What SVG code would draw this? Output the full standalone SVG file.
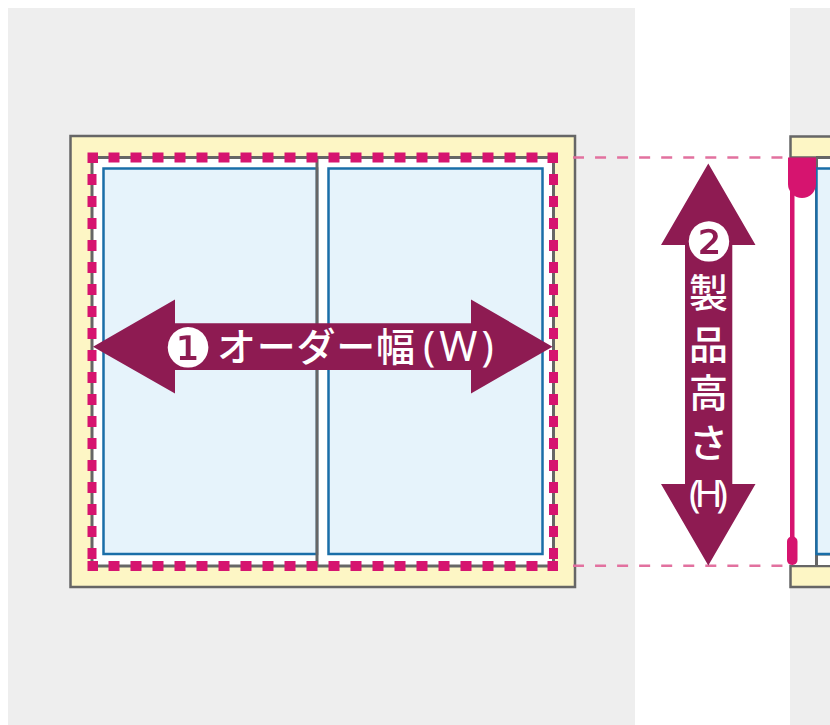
<svg xmlns="http://www.w3.org/2000/svg" width="830" height="725" viewBox="0 0 830 725">
<style>
.bg{fill:#eeeeee}
.frame{fill:#fdf6c5;stroke:#666666;stroke-width:2.500}
.opening{fill:#ffffff;stroke:#666666;stroke-width:3}
.pane{fill:#e6f3fb;stroke:#1a6ea8;stroke-width:2.500}
.post{stroke:#666666;stroke-width:3;fill:none}
.mark{fill:none;stroke:#d6146f}
.markfill{fill:#d6146f}
.guide{fill:none;stroke:#e2719f;stroke-width:2.500;stroke-dasharray:11 11.050}
.arrow{fill:#8e1b52}
.t{fill:#ffffff;font-family:"Noto Sans CJK JP","Noto Sans",sans-serif;font-size:39px;font-weight:500}
.latin{fill:#ffffff;font-family:"Noto Sans",sans-serif}
.num{fill:#ffffff;font-family:"DejaVu Sans",sans-serif;font-size:54px;text-anchor:middle}
.v{text-anchor:middle;font-size:39px}
</style>
<rect class="bg" x="8" y="8" width="627" height="717"/>
<rect class="bg" x="790" y="8" width="40" height="717"/>
<g id="window-front">
<rect class="frame" x="70.500" y="136" width="504.500" height="451"/>
<rect class="opening" x="92" y="157.500" width="461.500" height="408.500"/>
<rect class="pane" x="103.500" y="168.500" width="213.500" height="385.500"/>
<rect class="pane" x="328.500" y="168.500" width="214" height="385.500"/>
<path class="post" d="M317 157.500V566"/>
</g>
<g id="measure-outline">
<path class="mark" stroke-width="10" stroke-dasharray="11 11" d="M108.500 157.500H548M108.500 566H548"/>
<path class="mark" stroke-width="9" stroke-dasharray="11 11" d="M92 174V559M553.500 174V559"/>
<rect class="markfill" x="87.500" y="152.500" width="10.500" height="10.500"/>
<rect class="markfill" x="547.500" y="152.500" width="10.500" height="10.500"/>
<rect class="markfill" x="87.500" y="561" width="10.500" height="10"/>
<rect class="markfill" x="547.500" y="561" width="10.500" height="10"/>
</g>
<g id="window-side">
<path class="frame" d="M790.500 136.500H832V157.500H790.500Z"/>
<path class="frame" d="M790.500 566H832V587H790.500Z"/>
<rect fill="#ffffff" x="791" y="159" width="39" height="406"/>
<path class="post" d="M816 157.500H830M816.500 157.500V566M816.500 554H830"/>
<rect class="pane" x="816.500" y="168.500" width="20" height="385.500"/>
<path class="markfill" d="M788 157.500H816V184A14 14 0 0 1 788 184Z"/>
<rect class="markfill" x="790" y="190" width="4.500" height="355"/>
<rect class="markfill" x="787" y="536.500" width="10.500" height="28.500" rx="5"/>
</g>
<g id="connectors">
<path class="guide" d="M573 157.500H790M573 565.700H790"/>
</g>
<g id="width-arrow">
<path class="arrow" d="M93 346.700L175 299.500V323.300H471V299.500L552.500 346.700L471 393.500V370H175V393.500Z"/>
<text class="num" x="188" y="367">❶</text>
<text class="t" x="217" y="361" textLength="198">オーダー幅</text>
<text class="latin" x="423" y="361" font-size="41" letter-spacing="4">(W)</text>
</g>
<g id="height-arrow">
<path class="arrow" d="M708.300 163.500L755.500 245H732.300V484H755.500L708.300 565.500L661 484H685V245H661Z"/>
<text class="num" x="709" y="261">❷</text>
<text class="t v" x="708.500" y="307">製</text>
<text class="t v" x="708.500" y="359">品</text>
<text class="t v" x="708.500" y="407">高</text>
<text class="t v" x="708.500" y="457">さ</text>
<text class="latin" x="705.500" y="507" font-size="38" letter-spacing="-6" text-anchor="middle">(H)</text>
</g>
</svg>
